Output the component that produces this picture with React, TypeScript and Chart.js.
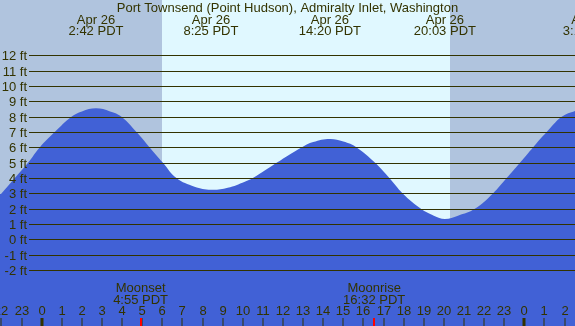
import React, { useEffect, useRef } from 'react';
import { Chart, registerables } from 'chart.js';

Chart.register(...registerables);

// ---- data ----
const tideHours = [
  -2.1, -2.0, -1.34, -0.68, -0.1, 0.65, 1.48, 2.0, 2.7, 3.4, 3.97, 4.71, 5.37, 6.03, 6.7,
  7.6, 8.42, 9.25, 10.1, 10.5, 11.68, 12.92, 13.5, 14.33, 15.0, 15.66, 16.58, 17.29, 17.95,
  18.86, 19.5, 20.05, 20.7, 21.54, 22.44, 23.12, 23.78, 24.43, 25.11, 25.86, 26.6, 27.3,
];
const tideFeet = [
  2.95, 3.0, 4.0, 5.0, 6.0, 7.0, 8.0, 8.35, 8.55, 8.35, 8.0, 7.0, 6.0, 5.0, 4.0,
  3.44, 3.24, 3.37, 3.77, 4.0, 5.0, 6.0, 6.35, 6.55, 6.38, 6.0, 5.0, 4.0, 3.0,
  2.0, 1.55, 1.33, 1.55, 2.0, 3.0, 4.0, 5.0, 6.0, 7.0, 8.0, 8.42, 8.7,
];

const feetTicks = [-2, -1, 0, 1, 2, 3, 4, 5, 6, 7, 8, 9, 10, 11, 12];
const hourTicks = [-2, -1, 0, 1, 2, 3, 4, 5, 6, 7, 8, 9, 10, 11, 12, 13, 14, 15, 16, 17, 18, 19, 20, 21, 22, 23, 24, 25, 26];

const eventHours = [2.7, 8.417, 14.333, 20.05, 27.28];
const eventDates = ['Apr 26', 'Apr 26', 'Apr 26', 'Apr 26', 'Apr 27'];
const eventTimes = ['2:42 PDT', '8:25 PDT', '14:20 PDT', '20:03 PDT', '3:17 PDT'];

const moonHours = [4.917, 16.533];
const moonNames = ['Moonset', 'Moonrise'];
const moonTimes = ['4:55 PDT', '16:32 PDT'];

const sunriseHour = 5.97;
const sunsetHour = 20.3;

const title = 'Port Townsend (Point Hudson), Admiralty Inlet, Washington';

// ---- styles ----
const W = 575;
const H = 326;
const NIGHT = '#b0c4de';
const DAY = '#e0f8ff';
const WATER = '#4161d6';
const INK = '#333300';
const FONT = '13px "Liberation Sans", Arial, sans-serif';

export default function App() {
  const ref = useRef<HTMLCanvasElement>(null);

  useEffect(() => {
    document.body.style.margin = '0';
    const canvas = ref.current;
    if (!canvas) return;

    const decor = {
      id: 'tideDecor',
      beforeDatasetsDraw(chart: any) {
        const { ctx, scales } = chart;
        const x = scales.x;
        ctx.save();
        ctx.fillStyle = NIGHT;
        ctx.fillRect(0, 0, W, H);
        const xs = Math.round(x.getPixelForValue(sunriseHour));
        const xe = Math.round(x.getPixelForValue(sunsetHour));
        ctx.fillStyle = DAY;
        ctx.fillRect(xs, 0, xe - xs, H);
        ctx.restore();
      },
      afterDatasetsDraw(chart: any) {
        const { ctx, scales } = chart;
        const x = scales.x;
        const y = scales.y;
        ctx.save();
        // grid lines + y labels
        ctx.strokeStyle = INK;
        ctx.lineWidth = 1;
        ctx.font = FONT;
        ctx.fillStyle = INK;
        ctx.textAlign = 'right';
        ctx.textBaseline = 'alphabetic';
        feetTicks.forEach((f) => {
          const py = Math.round(y.getPixelForValue(f)) + 0.5;
          ctx.beginPath();
          ctx.moveTo(29, py);
          ctx.lineTo(W, py);
          ctx.stroke();
          ctx.fillText(`${f} ft`, 27, py + 4.5);
        });

        // title and tide events
        ctx.textAlign = 'center';
        ctx.fillText(title, W / 2, 11.5);
        eventHours.forEach((h, i) => {
          const px = x.getPixelForValue(h);
          ctx.fillText(eventDates[i], px, 23.5);
          ctx.fillText(eventTimes[i], px, 35.3);
        });

        // hour labels and ticks
        hourTicks.forEach((h) => {
          const px = Math.round(x.getPixelForValue(h));
          const lab = String(((h % 24) + 24) % 24);
          ctx.fillStyle = INK;
          ctx.fillText(lab, px, 315.3);
          if (lab === '0') {
            ctx.fillRect(px - 1.5, 318, 3, H - 318);
          } else {
            ctx.fillRect(px - 0.5, 318, 1, H - 318);
          }
        });

        // moon events
        moonHours.forEach((h, i) => {
          const px = x.getPixelForValue(h);
          ctx.fillStyle = INK;
          ctx.fillText(moonNames[i], px, 292.3);
          ctx.fillText(moonTimes[i], px, 303.8);
          ctx.fillStyle = '#ff0000';
          ctx.fillRect(Math.round(px) - 1, 318, 2, H - 318);
        });
        ctx.restore();
      },
    };

    const chart = new Chart(canvas, {
      type: 'line',
      data: {
        datasets: [
          {
            data: tideHours.map((h, i) => ({ x: h, y: tideFeet[i] })),
            fill: 'start',
            backgroundColor: WATER,
            borderColor: WATER,
            borderWidth: 0,
            pointRadius: 0,
            tension: 0.4,
          },
        ],
      },
      options: {
        responsive: false,
        animation: false,
        events: [],
        layout: { padding: 0 },
        plugins: { legend: { display: false }, tooltip: { enabled: false } },
        scales: {
          x: { type: 'linear', display: false, min: -2.074, max: 26.52 },
          y: { type: 'linear', display: false, min: -5.64, max: 15.61 },
        },
      },
      plugins: [decor],
    } as any);

    return () => chart.destroy();
  }, []);

  return (
    <div style={{ position: 'fixed', left: 0, top: 0, width: W, height: H }}>
      <canvas ref={ref} width={W} height={H} style={{ display: 'block', width: W, height: H }} />
    </div>
  );
}
